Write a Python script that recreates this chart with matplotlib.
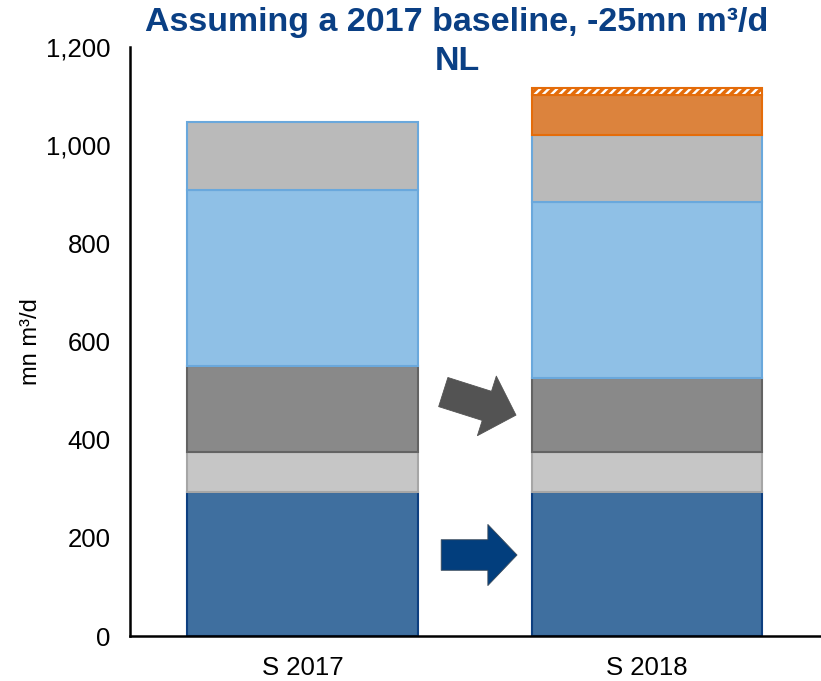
"""Stacked supply bars, S 2017 vs S 2018 (NL -25mn m3/d baseline)."""
import matplotlib
matplotlib.use("Agg")
import matplotlib.pyplot as plt
from matplotlib.ticker import FuncFormatter

plt.rcParams["font.family"] = ["Liberation Sans", "DejaVu Sans"]

CATEGORIES = ["S 2017", "S 2018"]
# segment heights, bottom to top (mn m3/d)
SEG_DARKBLUE = [293, 293]
SEG_LIGHTGRAY = [82, 82]
SEG_DARKGRAY = [175, 151]
SEG_LIGHTBLUE = [359, 358]
SEG_GRAY = [138, 137]
SEG_ORANGE = [0, 81]
SEG_HATCH = [0, 15]

SEGMENTS = [
    (SEG_DARKBLUE, "#3f6f9f", "#0d3f80", None),
    (SEG_LIGHTGRAY, "#c6c6c6", "#a6a6a6", None),
    (SEG_DARKGRAY, "#898989", "#636363", None),
    (SEG_LIGHTBLUE, "#8fc0e6", "#6aa8dc", None),
    (SEG_GRAY, "#bababa", "#6aa8dc", None),
    (SEG_ORANGE, "#dc833d", "#e46c0a", None),
    (SEG_HATCH, "white", "#e46c0a", "////"),
]

fig = plt.figure(figsize=(8.21, 6.81), dpi=100)
ax = fig.add_axes([130 / 821, 45 / 681, 691 / 821, 589 / 681])

x = list(range(len(CATEGORIES)))
bottom = [0] * len(CATEGORIES)
plt.rcParams["hatch.linewidth"] = 2.5
for vals, fc, ec, hatch in SEGMENTS:
    for i, v in enumerate(vals):
        if v <= 0:
            continue
        ax.bar(x[i], v, bottom=bottom[i], width=0.67, color=fc, edgecolor=ec,
               linewidth=1.5, hatch=hatch, zorder=2)
    bottom = [b + v for b, v in zip(bottom, vals)]

# arrows between the bars
ax.annotate("", xy=(0.623, 165), xytext=(0.403, 165),
            arrowprops=dict(arrowstyle="simple,head_length=2.1,head_width=4.4,tail_width=2.2",
                            fc="#023e7d", ec="#3a4a5a", lw=0.6, shrinkA=0, shrinkB=0,
                            mutation_scale=10), zorder=3)
ax.annotate("", xy=(0.620, 450), xytext=(0.409, 497),
            arrowprops=dict(arrowstyle="simple,head_length=2.2,head_width=4.5,tail_width=2.2",
                            fc="#535353", ec="#535353", lw=0.6, shrinkA=0, shrinkB=0,
                            mutation_scale=10), zorder=3)

ax.set_xlim(-0.5, 1.505)
ax.set_ylim(0, 1200)
ax.set_yticks(range(0, 1201, 200))
ax.yaxis.set_major_formatter(FuncFormatter(lambda v, p: f"{int(v):,}"))
ax.set_xticks(x)
ax.set_xticklabels(CATEGORIES)
ax.tick_params(axis="both", length=0, labelsize=18.5)
ax.tick_params(axis="y", pad=14)
ax.tick_params(axis="x", pad=14.5)
ax.set_ylabel("mn m³/d", fontsize=17)
ax.yaxis.set_label_coords(-0.127, 0.5)
for s in ("top", "right"):
    ax.spines[s].set_visible(False)
for s in ("left", "bottom"):
    ax.spines[s].set_linewidth(1.8)

fig.text(457 / 821, 1 - 23 / 681, "Assuming a 2017 baseline, -25mn m³/d",
         ha="center", va="center", fontsize=24.5, fontweight="bold", color="#0a3f84")
fig.text(457 / 821, 1 - 62 / 681, "NL",
         ha="center", va="center", fontsize=24.5, fontweight="bold", color="#0a3f84")

fig.savefig("out.png", dpi=100, facecolor="white")
